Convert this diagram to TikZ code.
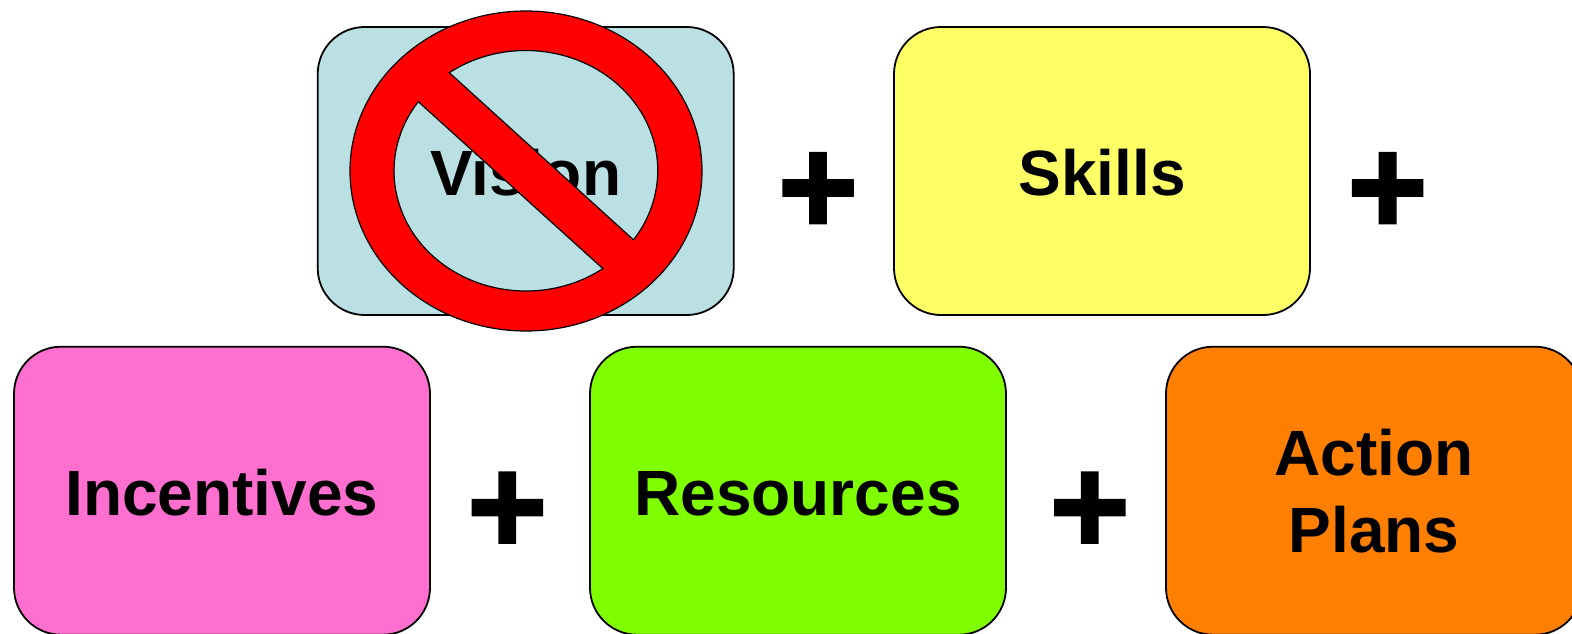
\documentclass[tikz,border=0pt]{standalone}
\usepackage{fontspec}
\setmainfont{Liberation Sans}
\newfontfamily\plusfont[FakeBold=2]{Liberation Sans Bold}

\begin{document}
\begin{tikzpicture}[x=1pt,y=1pt,
			box node/.style={rectangle,draw,line width=1.8pt,rounded corners=47pt,minimum width=416pt,minimum height=288pt,inner sep=0pt,align=center,execute at begin node={\rule{0pt}{50pt}},font=\fontsize{64}{77}\selectfont\bfseries},
			plus node/.style={inner sep=0pt,font=\fontsize{137}{137}\plusfont},
			ban part/.style={fill=banred,draw=black,line width=1.2pt,even odd rule}
			]
			
			\definecolor{visionblue}{HTML}{BBE0E3}
			\definecolor{skillsyellow}{HTML}{FFFF66}
			\definecolor{incentivespink}{HTML}{FF6FCF}
			\definecolor{resourcesgreen}{HTML}{80FF00}
			\definecolor{plansorange}{HTML}{FF8000}
			\definecolor{banred}{HTML}{FF0000}
			
			\useasboundingbox (0,0) rectangle (1572,-634);
			
			\node[box node,fill=visionblue] (vision) at (525.7,-171) {Vision};
			\node[box node,fill=skillsyellow] (skills) at (1102,-171) {Skills};
			\node[box node,fill=incentivespink] (incentives) at (222,-490.7) {Incentives};
			\node[box node,fill=resourcesgreen] (resources) at (798,-490.7) {Resources};
			\node[box node,fill=plansorange] (plans) at (1374,-490.7) {Action\\Plans};
			
			\foreach \s/\x/\y in {1/818/-193.5,2/1387.6/-193.5,3/507.3/-513,4/1089.8/-513} {
				
				\node[plus node] (plus\s) at (\x,\y) {+};
			}
			
			% ring with the two openings cut out
			\draw[ban part] (526,-171) ellipse [x radius=176,y radius=160]
				(449.3,-72.7) arc [start angle=125.4,end angle=-35.3,x radius=132,y radius=120] -- cycle
				(418.3,-101.7) arc [start angle=144.7,end angle=305.6,x radius=132,y radius=120] -- cycle;
			
			\end{tikzpicture}
\end{document}
